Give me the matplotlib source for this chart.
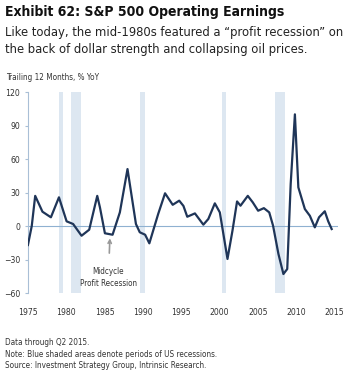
import numpy as np
import matplotlib
matplotlib.use('Agg')
from matplotlib import pyplot as plt

# trailing 12m S&P 500 operating earnings, % YoY
years = [1975.0, 1975.5, 1975.95, 1976.9, 1978.0, 1979.05, 1980.05, 1980.9, 1982.0, 1983.0,
         1984.05, 1984.4, 1985.05, 1986.05, 1987.0, 1988.0, 1989.1, 1989.6, 1990.3, 1990.85,
         1992.0, 1992.9, 1993.9, 1994.75, 1995.3, 1995.8, 1996.8, 1997.9, 1998.55, 1999.4,
         2000.05, 2001.05, 2001.7, 2002.3, 2002.75, 2003.7, 2004.35, 2005.05, 2005.8, 2006.5,
         2007.0, 2007.7, 2008.35, 2008.85, 2009.3, 2009.85, 2010.3, 2011.15, 2011.8, 2012.45,
         2013.0, 2013.75, 2014.2, 2014.65]
growth = [-17, 0, 27, 12.8, 7.8, 25.7, 4.2, 1.8, -8.7, -3.3,
          27, 16.7, -6.5, -7.8, 12.2, 51, 1.8, -5.6, -7.8, -15.5,
          10.7, 29.3, 19, 22.7, 18, 8.3, 11.3, 1.2, 6.3, 20.3,
          12.2, -29.5, -4.2, 22, 18.2, 27, 21.2, 13.7, 16, 12.2,
          0.3, -25, -43, -38.5, 37.6, 100, 34.6, 15.2, 9.2, -1.2,
          7.8, 13.2, 4.2, -2.7]

# recession bands as placed on the chart
rec_start = [1979.05, 1980.6, 1989.6, 2000.3, 2007.2]
rec_end = [1979.6, 1981.9, 1990.3, 2000.9, 2008.6]

xticks = [1975, 1980, 1985, 1990, 1995, 2000, 2005, 2010, 2015]
yticks = [-60, -30, 0, 30, 60, 90, 120]

plt.rcParams['font.family'] = ['DejaVu Sans']
plt.rcParams['font.stretch'] = 'condensed'

fig = plt.figure(figsize=(3.49, 3.76), dpi=100)
ax = fig.add_axes([0.080, 0.2207, 0.889, 0.5346])

for s, e in zip(rec_start, rec_end):
    ax.axvspan(s, e, color='#dde7f1', lw=0, zorder=0)
ax.axhline(0, color='#8fb1d1', lw=0.8, zorder=1)
ax.plot(years, growth, color='#1f3558', lw=1.6, zorder=3)

ax.set_xlim(1975, 2015.5)
ax.set_ylim(-60, 120)
ax.set_xticks(xticks)
ax.set_yticks(yticks)
ax.tick_params(axis='x', length=0, pad=11, labelsize=6.2, colors='#333333')
ax.tick_params(axis='y', length=2.5, width=0.8, color='#a9bfd6', pad=3, labelsize=6.2, labelcolor='#333333')
for side in ['top', 'right', 'bottom']:
    ax.spines[side].set_visible(False)
ax.spines['left'].set_color('#a9bfd6')
ax.spines['left'].set_linewidth(0.8)

ax.annotate('Midcycle\nProfit Recession', xy=(1985.7, -11), xytext=(1985.5, -46),
            ha='center', va='center', fontsize=5.8, color='#333333', linespacing=1.4,
            arrowprops=dict(arrowstyle='->', color='#999999', lw=1.2, shrinkB=0, shrinkA=8))

fig.text(0.014, 0.968, 'Exhibit 62: S&P 500 Operating Earnings', fontsize=10,
         fontweight='bold', va='center', color='#111111')
fig.text(0.014, 0.914, 'Like today, the mid-1980s featured a \u201cprofit recession\u201d on',
         fontsize=9.3, va='center', color='#222222')
fig.text(0.014, 0.869, 'the back of dollar strength and collapsing oil prices.',
         fontsize=9.3, va='center', color='#222222')
fig.text(0.017, 0.795, 'Trailing 12 Months, % YoY', fontsize=5.9, va='center', color='#333333')

fig.text(0.014, 0.088, 'Data through Q2 2015.', fontsize=5.9, va='center', color='#333333')
fig.text(0.014, 0.058, 'Note: Blue shaded areas denote periods of US recessions.',
         fontsize=5.9, va='center', color='#333333')
fig.text(0.014, 0.029, 'Source: Investment Strategy Group, Intrinsic Research.',
         fontsize=5.9, va='center', color='#333333')

fig.savefig('out.png', dpi=100)
